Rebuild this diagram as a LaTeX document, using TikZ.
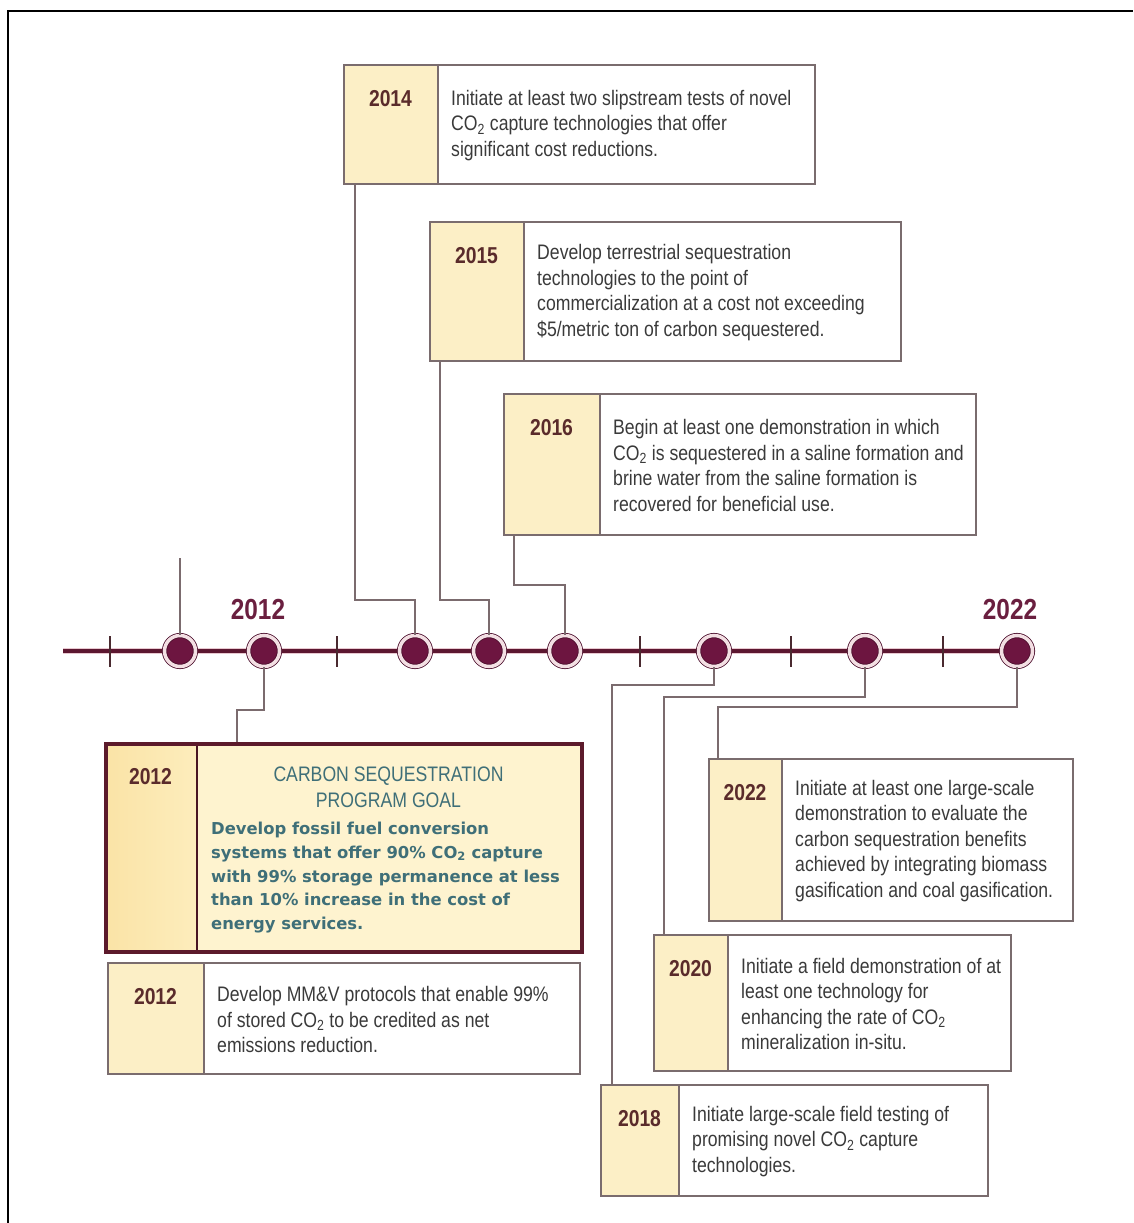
\documentclass[tikz,border=0pt]{standalone}
\usepackage{fontspec}
\setmainfont{Liberation Sans}
\newfontfamily\narrowfont{Liberation Sans}[FakeStretch=0.84]
\newfontfamily\goalfont{DejaVu Sans}
\newcommand\cotwo{CO\textsubscript{2}}
\definecolor{boxc}{HTML}{7A6C6E}
\definecolor{yearfill}{HTML}{FCEFC6}
\definecolor{yearc}{HTML}{5A2B2B}
\definecolor{bodyc}{HTML}{3A3A3A}
\definecolor{linkc}{HTML}{7B6B6E}
\definecolor{dotc}{HTML}{6D1540}
\definecolor{ringc}{HTML}{F3DFE3}
\definecolor{tlc}{HTML}{5C1730}
\definecolor{tlhalo}{HTML}{E8C8D0}
\definecolor{tickc}{HTML}{4A2A30}
\definecolor{labc}{HTML}{6A1F3F}
\definecolor{goalc}{HTML}{5C1A2B}
\definecolor{goalfill}{HTML}{FEF3CF}
\definecolor{goalyearA}{HTML}{FAE3A6}
\definecolor{goalyearB}{HTML}{FDEDBC}
\definecolor{tealc}{HTML}{3F6F78}
\tikzset{
  mbox/.style={draw=boxc, line width=2pt, inner sep=0pt, anchor=north west},
  boxline/.style={draw=boxc, line width=2pt},
  yeartxt/.style={font=\narrowfont\bfseries\fontsize{23}{26}\selectfont, text=yearc, inner sep=0pt},
  bodytxt/.style={font=\narrowfont\fontsize{21}{25.5}\selectfont, text=bodyc, align=left, inner sep=0pt, anchor=west},
  titletxt/.style={font=\narrowfont\fontsize{21}{26}\selectfont, text=tealc, align=center, inner sep=0pt},
  goaltxt/.style={font=\goalfont\bfseries\fontsize{16.4}{23.7}\selectfont, text=tealc, align=left, inner sep=0pt},
  tllab/.style={font=\narrowfont\bfseries\fontsize{29}{32}\selectfont, text=labc, inner sep=0pt},
  tdot/.style={circle, minimum size=31pt, inner sep=0pt, fill=dotc, draw=dotc!70!black, line width=0.8pt, double=ringc, double distance=3.5pt},
  link/.style={draw=linkc, line width=1.6pt},
  tick/.style={draw=tickc, line width=1.6pt},
}
\newcommand\milestone[8]{%
  \fill[yearfill] (#2,#3) rectangle (#6,#5);
  \node[mbox, minimum width={(#4-#2)*1pt}, minimum height={(#5-#3)*1pt}] (#1) at (#2,#3) {};
  \draw[boxline] (#6,#3) -- (#6,#5);
  \node[yeartxt] (#1y) at ({(#2+#6)/2},{#3+35}) {#7};
  \node[bodytxt] (#1t) at ({#6+13},{(#3+#5)/2+2}) {#8};
}
\begin{document}
\begin{tikzpicture}[x=1pt,y=-1pt]
\useasboundingbox (0,0) rectangle (1133,1223);
% frame
\draw[line width=2.5pt] (8,1223) -- (8,11) -- (1133,11);

% upper milestones
\milestone{b14}{343}{64}{814}{183}{438}{2014}{Initiate at least two slipstream tests of novel\\\cotwo{} capture technologies that offer\\significant cost reductions.}
\milestone{b15}{429}{221}{900}{360}{524}{2015}{Develop terrestrial sequestration\\technologies to the point of\\commercialization at a cost not exceeding\\\$5/metric ton of carbon sequestered.}
\milestone{b16}{503}{393}{975}{534}{600}{2016}{Begin at least one demonstration in which\\\cotwo{} is sequestered in a saline formation and\\brine water from the saline formation is\\recovered for beneficial use.}

% goal box
\fill[goalfill] (104,742) rectangle (580,950);
\shade[left color=goalyearA, right color=goalyearB] (104,742) rectangle (197,950);
\draw[draw=goalc!80!black, line width=2pt] (197,742) -- (197,950);
\node[draw=goalc, line width=3.5pt, minimum width=476pt, minimum height=208pt, anchor=north west, inner sep=0pt] (goal) at (104,742) {};
\node[yeartxt] (goaly) at (150.5,777) {2012};
\node[titletxt, anchor=north] (goalt) at (388.5,767) {CARBON SEQUESTRATION\\PROGRAM GOAL};
\node[goaltxt, anchor=north west] (goalb) at (211,822) {Develop fossil fuel conversion\\systems that offer 90\% \cotwo{} capture\\with 99\% storage permanence at less\\than 10\% increase in the cost of\\energy services.};

% lower milestones
\milestone{b12}{107}{962}{579}{1073}{204}{2012}{Develop MM\&V protocols that enable 99\%\\of stored \cotwo{} to be credited as net\\emissions reduction.}
\milestone{b22}{708}{758}{1072}{920}{782}{2022}{Initiate at least one large-scale\\demonstration to evaluate the\\carbon sequestration benefits\\achieved by integrating biomass\\gasification and coal gasification.}
\milestone{b20}{653}{934}{1010}{1070}{728}{2020}{Initiate a field demonstration of at\\least one technology for\\enhancing the rate of \cotwo\\mineralization in-situ.}
\milestone{b18}{600}{1084}{987}{1195}{679}{2018}{Initiate large-scale field testing of\\promising novel \cotwo{} capture\\technologies.}

% timeline
\coordinate (tstart) at (63,651);
\coordinate (tend) at (1017,651);
\draw[draw=tlhalo, line width=6pt] (tstart) -- (tend);
\draw[draw=tlc, line width=3.2pt] (tstart) -- (tend);
\foreach \tx in {110,337,640,791,943} \draw[tick] (\tx,636) -- (\tx,667);

\node[tdot] (d0) at (180,651) {};
\node[tdot] (d12) at (264,651) {};
\node[tdot] (d14) at (415,651) {};
\node[tdot] (d15) at (489,651) {};
\node[tdot] (d16) at (565,651) {};
\node[tdot] (d18) at (714,651) {};
\node[tdot] (d20) at (865,651) {};
\node[tdot] (d22) at (1017,651) {};

\node[tllab] (l12) at (258,610) {2012};
\node[tllab] (l22) at (1010,610) {2022};

% connectors
\coordinate (top0) at (180,558);
\coordinate (j14) at (415,600);
\coordinate (j15) at (489,600);
\coordinate (j16) at (565,585);
\coordinate (j12) at (237,710);
\coordinate (j18) at (612,685);
\coordinate (j20) at (664,697);
\coordinate (j22) at (718,707);
\draw[link] (top0) -- (d0);
\draw[link] ([xshift=12pt]b14.south west) |- (j14) -- (d14);
\draw[link] ([xshift=11pt]b15.south west) |- (j15) -- (d15);
\draw[link] ([xshift=11pt]b16.south west) |- (j16) -- (d16);
\draw[link] (d12) |- (j12) -- (j12 |- goal.north);
\draw[link] (d18) |- (j18) -- (j18 |- b18.north);
\draw[link] (d20) |- (j20) -- (j20 |- b20.north);
\draw[link] (d22) |- (j22) -- (j22 |- b22.north);
\end{tikzpicture}
\end{document}
